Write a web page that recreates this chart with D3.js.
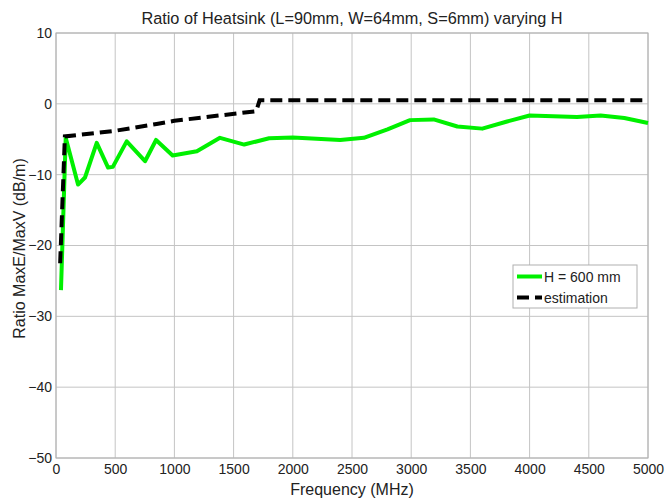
<!DOCTYPE html>
<html>
<head>
<meta charset="utf-8">
<script src="https://cdn.jsdelivr.net/npm/d3@7"></script>
<style>
  body { margin: 0; background: #fff; }
  text { font-family: "Liberation Sans", Arial, sans-serif; fill: #222; }
</style>
</head>
<body>
<div id="chart"></div>
<script>
const W = 668, H = 499
const margin = { top: 33, right: 20, bottom: 41, left: 56 }

const xTicks = [0, 500, 1000, 1500, 2000, 2500, 3000, 3500, 4000, 4500, 5000]
const yTicks = [10, 0, -10, -20, -30, -40, -50]

// H = 600 mm (frequency MHz, ratio dB)
const measFreq = [42, 82, 186, 245, 344, 440, 480, 597, 752, 845, 985, 1190, 1385, 1590, 1800, 2000, 2400, 2600, 2800, 2990, 3190, 3390, 3600, 3810, 4000, 4200, 4400, 4600, 4800, 5000]
const measVal  = [-26.3, -4.8, -11.4, -10.4, -5.5, -9.0, -8.9, -5.3, -8.1, -5.1, -7.3, -6.7, -4.8, -5.75, -4.85, -4.75, -5.1, -4.8, -3.6, -2.3, -2.2, -3.2, -3.5, -2.5, -1.65, -1.75, -1.85, -1.65, -2.0, -2.7]

// estimation
const estFreq = [35, 75, 500, 850, 1000, 1250, 1690, 1720, 5000]
const estVal  = [-22.5, -4.6, -3.8, -2.85, -2.4, -1.9, -1.05, 0.5, 0.5]

const svg = d3.select("#chart").append("svg")
  .attr("width", W)
  .attr("height", H)

const x = d3.scaleLinear().domain([0, 5000]).range([margin.left, W - margin.right])
const y = d3.scaleLinear().domain([-50, 10]).range([H - margin.bottom, margin.top])

// grid
svg.append("g").selectAll("line").data(xTicks).join("line")
  .attr("x1", d => x(d)).attr("x2", d => x(d))
  .attr("y1", y(10)).attr("y2", y(-50))
  .attr("stroke", "#c4c4c4").attr("stroke-width", 1)
svg.append("g").selectAll("line").data(yTicks).join("line")
  .attr("x1", x(0)).attr("x2", x(5000))
  .attr("y1", d => y(d)).attr("y2", d => y(d))
  .attr("stroke", "#c4c4c4").attr("stroke-width", 1)

// axes
const xAxis = d3.axisBottom(x).tickValues(xTicks).tickSize(0).tickPadding(6).tickFormat(d3.format("d"))
const yAxis = d3.axisLeft(y).tickValues(yTicks).tickSize(0).tickPadding(4)

const gx = svg.append("g").attr("transform", `translate(0,${y(-50)})`).call(xAxis)
const gy = svg.append("g").attr("transform", `translate(${x(0)},0)`).call(yAxis)
gx.select(".domain").remove()
gy.select(".domain").remove()
gx.selectAll("text").style("font-size", "14px").attr("fill", "#222")
gy.selectAll("text").style("font-size", "14px").attr("fill", "#222")

// box
svg.append("rect")
  .attr("x", x(0)).attr("y", y(10))
  .attr("width", x(5000) - x(0)).attr("height", y(-50) - y(10))
  .attr("fill", "none").attr("stroke", "#b0b0b0").attr("stroke-width", 1)

// lines
const line = d3.line().x(d => x(d[0])).y(d => y(d[1]))

svg.append("path")
  .datum(measFreq.map((f, i) => [f, measVal[i]]))
  .attr("d", line)
  .attr("fill", "none")
  .attr("stroke", "#00f000")
  .attr("stroke-width", 4)
  .attr("stroke-linejoin", "round")

svg.append("path")
  .datum(estFreq.map((f, i) => [f, estVal[i]]))
  .attr("d", line)
  .attr("fill", "none")
  .attr("stroke", "#000")
  .attr("stroke-width", 4)
  .attr("stroke-dasharray", "12,6")

// legend
const lg = svg.append("g").attr("transform", "translate(513,265)")
lg.append("rect").attr("width", 124).attr("height", 43)
  .attr("fill", "#fff").attr("stroke", "#b0b0b0")
lg.append("line").attr("x1", 4).attr("x2", 29).attr("y1", 11.5).attr("y2", 11.5)
  .attr("stroke", "#00f000").attr("stroke-width", 4)
lg.append("line").attr("x1", 4).attr("x2", 29).attr("y1", 32.5).attr("y2", 32.5)
  .attr("stroke", "#000").attr("stroke-width", 4).attr("stroke-dasharray", "12,6")
lg.append("text").attr("x", 31).attr("y", 16.5).style("font-size", "14px").text("H = 600 mm")
lg.append("text").attr("x", 31).attr("y", 37.5).style("font-size", "14px").text("estimation")

// titles
svg.append("text")
  .attr("x", (x(0) + x(5000)) / 2).attr("y", 24)
  .attr("text-anchor", "middle").style("font-size", "16.3px")
  .text("Ratio of Heatsink (L=90mm, W=64mm, S=6mm) varying H")

svg.append("text")
  .attr("x", (x(0) + x(5000)) / 2).attr("y", 495)
  .attr("text-anchor", "middle").style("font-size", "16px")
  .text("Frequency (MHz)")

svg.append("text")
  .attr("transform", `translate(25,${(y(10) + y(-50)) / 2 + 3}) rotate(-90)`)
  .attr("text-anchor", "middle").style("font-size", "16px")
  .text("Ratio MaxE/MaxV (dB/m)")
</script>
</body>
</html>
